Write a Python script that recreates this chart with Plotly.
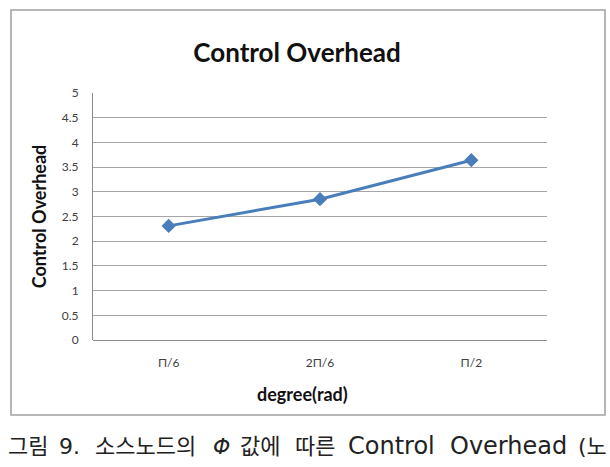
import plotly.graph_objects as go

categories = ["Π/6", "2Π/6", "Π/2"]
values = [2.31, 2.85, 3.64]
y_ticks = [0, 0.5, 1, 1.5, 2, 2.5, 3, 3.5, 4, 4.5, 5]
y_tick_labels = ["0", "0.5", "1", "1.5", "2", "2.5", "3", "3.5", "4", "4.5", "5"]
title_text = "Control Overhead"
x_title = "degree(rad)"
y_title = "Control Overhead"
caption_parts = ["그림", "9.", "소스노드의", "<i>Φ</i>", "값에", "따른", "Control", "Overhead", "(노"]

W, H = 610, 467
L, R, T, B = 93, 63, 93, 127
pw, ph = W - L - R, H - T - B

def px(x):
    return (x - L) / pw

def py(y):
    return (H - B - y) / ph

FONT = "Lato, Open Sans, sans-serif"

fig = go.Figure()
fig.add_trace(go.Scatter(
    x=categories, y=values, mode="lines+markers",
    line=dict(color="#4A7EBB", width=3),
    marker=dict(symbol="diamond", size=11, color="#4A7EBB"),
    showlegend=False,
))

fig.update_layout(
    width=W, height=H,
    margin=dict(l=L, r=R, t=T, b=B),
    paper_bgcolor="white", plot_bgcolor="white",
    title=dict(text="<b>" + title_text + "</b>", xref="container", x=297 / W,
               xanchor="center", y=1 - 53 / H, yanchor="middle",
               font=dict(family=FONT, size=26, color="#111111")),
    xaxis=dict(type="category", showgrid=False, showline=False, ticks="",
               ticklabelstandoff=14,
               tickfont=dict(family=FONT, size=12, color="#404040"),
               range=[-0.5, 2.5]),
    yaxis=dict(range=[0, 5], tickvals=y_ticks, ticktext=y_tick_labels,
               showgrid=True, gridcolor="#A6A6A6", gridwidth=1,
               showline=True, linecolor="#8C8C8C", linewidth=1, ticks="",
               zeroline=True, zerolinecolor="#8C8C8C", zerolinewidth=1,
               ticklabelstandoff=11,
               tickfont=dict(family=FONT, size=12, color="#404040"),
               title=dict(text="<b>" + y_title + "</b>", standoff=10,
                          font=dict(family=FONT, size=18, color="#111111"))),
)

# x-axis title (placed slightly left of centre, as in the original)
fig.add_annotation(text="<b>" + x_title + "</b>", xref="paper", yref="paper",
                   x=px(302), y=py(394), xanchor="center", yanchor="middle",
                   showarrow=False, font=dict(family=FONT, size=18, color="#111111"))

# outer chart frame
fig.add_shape(type="rect", xref="paper", yref="paper",
              x0=px(11), x1=px(605), y0=py(415), y1=py(10),
              line=dict(color="#A0A0A0", width=1.5), layer="below")

caption_x = [6, 57, 93, 211, 238, 293, 346, 448, 576]
caption_size = [22, 22, 22, 22, 22, 22, 24, 24, 22]
for txt, cx, fs in zip(caption_parts, caption_x, caption_size):
    fig.add_annotation(text=txt, xref="paper", yref="paper",
                       x=px(cx), y=py(446), xanchor="left", yanchor="middle",
                       showarrow=False,
                       font=dict(family="DejaVu Sans, Noto Sans CJK KR, sans-serif",
                                 size=fs, color="#222222"))

fig.write_html("out.html")
